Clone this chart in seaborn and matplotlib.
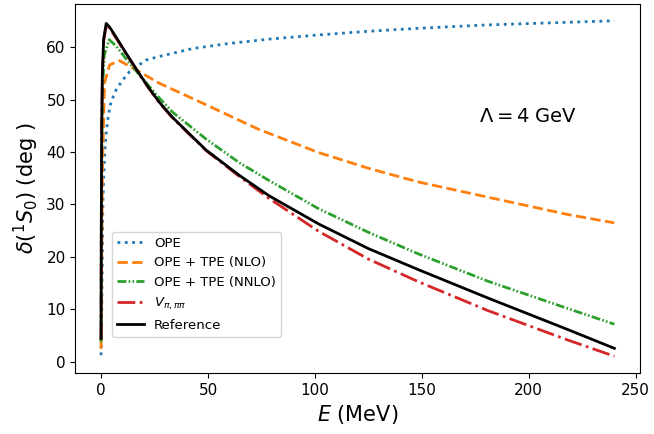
import numpy as np
import pandas as pd
import matplotlib
matplotlib.use("Agg")
import matplotlib.pyplot as plt
import seaborn as sns

# ---- data ----
E_ope = [0, 0.25, 0.55, 0.8, 1.2, 1.8, 2.5, 3.4, 4.7, 7.1, 10.1, 13.3, 16.4, 21, 27.2, 42.7, 58.3, 78.5, 101.7, 125, 150, 180, 210, 240]
d_ope = [1.3, 8, 18, 29, 35, 40.5, 44, 47, 49.6, 51.9, 53.7, 55.3, 56.2, 57.5, 58.2, 59.7, 60.6, 61.5, 62.3, 63.0, 63.6, 64.2, 64.6, 65.0]

E_nlo = [0, 0.3, 0.6, 0.85, 1.6, 4, 8.6, 17.9, 27.2, 45.9, 73.8, 101.7, 125, 148.3, 180.8, 218.1, 240]
d_nlo = [2.5, 20, 35, 40.4, 53.1, 56.6, 57.4, 55.3, 53.1, 49.6, 44.3, 39.9, 36.9, 34.3, 31.4, 28.1, 26.5]

E_nnlo = [0, 0.1, 0.3, 0.7, 1.5, 3.8, 7, 12, 17.9, 27.2, 33.4, 49, 64.5, 78.4, 101.7, 125, 148.3, 180.8, 218.1, 240]
d_nnlo = [3.8, 20, 40, 52, 58.5, 61.4, 60.2, 57.6, 54.7, 50.3, 47.6, 42.5, 38.0, 34.6, 29.2, 24.7, 20.6, 15.4, 10.2, 7.2]

E_v = [0, 0.1, 0.3, 0.6, 1.2, 2.4, 4, 7, 11.7, 14.1, 17.9, 22, 27.2, 33.4, 49, 64.5, 78.4, 101.7, 125, 148.3, 180.8, 218.1, 240]
d_v = [4.2, 24.5, 44.5, 54.5, 61, 64.1, 63.6, 61.7, 58.7, 57.2, 54.8, 52.3, 49.4, 46.5, 40.3, 35.4, 31.2, 24.9, 19.6, 15.3, 9.8, 4.2, 1.1]

E_ref = [0, 0.1, 0.3, 0.6, 1.2, 2.4, 4, 7, 11.7, 14.1, 17.9, 22, 27.2, 33.4, 49.0, 64.5, 78.4, 101.7, 125, 148.3, 180.8, 218.1, 240]
d_ref = [4.5, 25, 45, 55, 61.5, 64.5, 63.8, 61.9, 58.8, 57.3, 54.9, 52.4, 49.5, 46.6, 40.4, 35.6, 31.7, 26.3, 21.6, 17.6, 12.2, 6.2, 2.6]

labels = ["OPE", "OPE + TPE (NLO)", "OPE + TPE (NNLO)", r"$V_{\pi,\pi\pi}$", "Reference"]
colors = ["#1f77b4", "#ff7f0e", "#2ca02c", "#d62728", "black"]
styles = [":", "--", (0, (3.2, 0.8, 0.6, 0.8, 0.6, 0.8)), "-.", "-"]

series = [(E_ope, d_ope), (E_nlo, d_nlo), (E_nnlo, d_nnlo), (E_v, d_v), (E_ref, d_ref)]

fig, ax = plt.subplots(figsize=(6.54, 4.34), dpi=100)
fig.subplots_adjust(left=0.1153, right=0.9786, top=0.9908, bottom=0.1406)

for (E, d), lab, col, ls in zip(series, labels, colors, styles):
    df = pd.DataFrame({"E": E, "delta": d})
    sns.lineplot(data=df, x="E", y="delta", ax=ax, color=col, linestyle=ls,
                 linewidth=2, label=lab, sort=False, estimator=None)

ax.set_xlabel(r"$E$ (MeV)", fontsize=15)
ax.set_ylabel(r"$\delta(^1S_0)$ (deg )", fontsize=15)
ax.tick_params(labelsize=11)
ax.set_xticks([0, 50, 100, 150, 200, 250])
ax.set_yticks([0, 10, 20, 30, 40, 50, 60])
ax.text(0.715, 0.68, r"$\Lambda = 4$ GeV", transform=ax.transAxes, fontsize=14)
ax.legend(loc="lower left", bbox_to_anchor=(0.053, 0.08), fontsize=9.5)

fig.savefig("out.png", dpi=100)
